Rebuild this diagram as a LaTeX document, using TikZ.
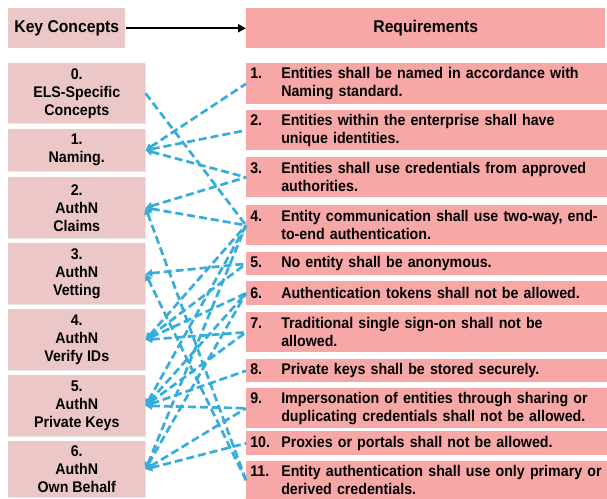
\documentclass[tikz,border=0pt]{standalone}
\usepackage{fontspec}
\setmainfont[FakeStretch=0.92]{Liberation Sans}
\usetikzlibrary{arrows.meta,shadows}
\definecolor{kcpink}{RGB}{236,199,199}
\definecolor{rqpink}{RGB}{248,167,167}
\definecolor{linkblue}{RGB}{52,172,220}
\newcommand\reqline[2]{\makebox[23.25pt][l]{#1}\parbox[t]{244pt}{\raggedright #2}}
\tikzset{
   kbox/.style = {%
    shape=rectangle,
    anchor=north west,
    fill=kcpink,
    drop shadow={opacity=0.2, shadow xshift=0.8pt, shadow yshift=-0.8pt},
    minimum width=102.75pt,
    minimum height=#1,
    inner ysep=1pt,
    align=center,
    font=\fontsize{11.6}{13.5}\selectfont\bfseries},
   rbox/.style = {%
    shape=rectangle,
    anchor=north west,
    fill=rqpink,
    minimum width=269.25pt,
    minimum height=#1,
    text width=267pt,
    inner xsep=3pt, inner ysep=1pt,
    align=left,
    font=\fontsize{11.6}{13.5}\selectfont\bfseries},
   head/.style = {%
    shape=rectangle,
    anchor=north west,
    minimum height=30pt,
    font=\fontsize{12.8}{14}\selectfont\bfseries},
   link/.style = {%
    draw=linkblue,
    line width=2pt,% dashed connector
    dash pattern=on 6pt off 3pt,
    {Triangle[length=5pt,width=5.5pt]}-},
}
\begin{document}
\begin{tikzpicture}[x=0.75pt,y=-0.75pt]
  \path[use as bounding box, fill=white] (0,0) rectangle (607,499);

  % headers
  \node[head, fill=kcpink, minimum width=87.75pt] (kc) at (8,8) {Key Concepts};
  \node[head, fill=rqpink, minimum width=269.25pt] (rq) at (246,8) {Requirements};
  \draw[line width=1.8pt, -{Triangle[length=6pt,width=6pt]}] (kc) -- (rq);

  % key concepts
  \node[kbox=45pt]    (c0) at (8,63)  {0.\\ELS-Specific\\Concepts};
  \node[kbox=31.5pt]  (c1) at (8,129) {1.\\Naming.};
  \node[kbox=45.75pt] (c2) at (8,177) {2.\\AuthN\\Claims};
  \node[kbox=45.75pt] (c3) at (8,243) {3.\\AuthN\\Vetting};
  \node[kbox=45.75pt] (c4) at (8,309) {4.\\AuthN\\Verify IDs};
  \node[kbox=45.75pt] (c5) at (8,375) {5.\\AuthN\\Private Keys};
  \node[kbox=42pt]    (c6) at (8,441) {6.\\AuthN\\Own Behalf};

  % requirements
  \node[rbox=30.75pt] (r1)  at (246,63)  {\reqline{1.}{Entities shall be named in accordance with\\Naming standard.}};
  \node[rbox=30pt]    (r2)  at (246,110) {\reqline{2.}{Entities within the enterprise shall have\\unique identities.}};
  \node[rbox=30pt]    (r3)  at (246,157) {\reqline{3.}{Entities shall use credentials from approved\\authorities.}};
  \node[rbox=30pt]    (r4)  at (246,205) {\reqline{4.}{Entity communication shall use two-way, end-\\to-end authentication.}};
  \node[rbox=17.25pt] (r5)  at (246,252) {\reqline{5.}{No entity shall be anonymous.}};
  \node[rbox=18pt]    (r6)  at (246,281) {\reqline{6.}{Authentication tokens shall not be allowed.}};
  \node[rbox=30pt]    (r7)  at (246,312) {\reqline{7.}{Traditional single sign-on shall not be\\allowed.}};
  \node[rbox=17.25pt] (r8)  at (246,359) {\reqline{8.}{Private keys shall be stored securely.}};
  \node[rbox=30pt]    (r9)  at (246,388) {\reqline{9.}{Impersonation of entities through sharing or\\duplicating credentials shall not be allowed.}};
  \node[rbox=18pt]    (r10) at (246,431) {\reqline{10.}{Proxies or portals shall not be allowed.}};
  \node[rbox=28.5pt]  (r11) at (246,461) {\reqline{11.}{Entity authentication shall use only primary or\\derived credentials.}};

  % concept to requirement links
  \draw[link, -] (c0.east) -- (r4.west);
  \foreach \r in {r1,r2,r3}
    \draw[link] (c1.east) -- (\r.west);
  \foreach \r in {r3,r4,r11}
    \draw[link] (c2.east) -- (\r.west);
  \foreach \r in {r5,r11}
    \draw[link] (c3.east) -- (\r.west);
  \foreach \r in {r4,r5,r6,r7}
    \draw[link] (c4.east) -- (\r.west);
  \foreach \r in {r4,r6,r7,r8,r9}
    \draw[link] (c5.east) -- (\r.west);
  \foreach \r in {r4,r6,r9,r10}
    \draw[link] (c6.east) -- (\r.west);
\end{tikzpicture}
\end{document}
